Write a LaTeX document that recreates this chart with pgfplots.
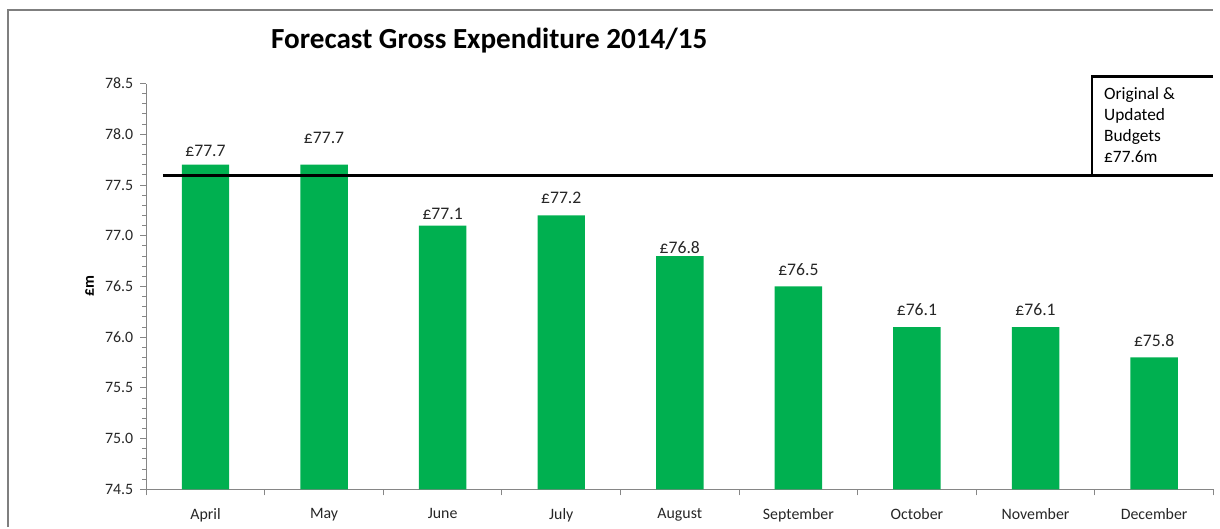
\documentclass[border=0pt]{standalone}
\usepackage{fontspec}
\setmainfont{Carlito}
\usepackage{pgfplots}
\pgfplotsset{compat=1.18}
\definecolor{barGreen}{HTML}{00B050}
\definecolor{axisGray}{HTML}{868686}
\definecolor{frameGray}{HTML}{7F7F7F}
\definecolor{labelGray}{HTML}{262626}

\begin{document}
\begin{tikzpicture}
% page frame: 1px = 0.5bp, axis origin at pixel (147,492)
\path (-73.5bp,-19bp) rectangle (536.5bp,246bp);
\draw[frameGray, line width=0.8bp] (-69.5bp,-19bp) -- (-69.5bp,241bp) -- (536.5bp,241bp);
\begin{axis}[
  at={(0,0)}, anchor=south west,
  scale only axis, width=536.5bp, height=204bp,
  xmin=-0.5, xmax=8.5, ymin=74.5, ymax=78.5,
  axis lines=left, axis line style={axisGray, line width=0.6bp, -},
  tick style={axisGray, line width=0.5bp},
  tick align=outside,
  major tick length=3bp, minor tick length=2bp,
  xtick={-0.5,0.5,...,8.5}, xticklabels={},
  extra x ticks={0,1,2,3,4,5,6,7,8},
  extra x tick labels={April,May,June,July,August,September,October,November,December},
  extra x tick style={major tick length=0pt, tick label style={yshift=-6bp}},
  ytick={74.5,75,...,78.5}, minor y tick num=4,
  yticklabel style={/pgf/number format/fixed, /pgf/number format/precision=1,
    /pgf/number format/fixed zerofill},
  /pgf/number format/assume math mode=true,
  tick label style={font=\fontsize{8}{9.6}\selectfont, text=labelGray},
  ylabel={£m},
  ylabel style={at={(axis description cs:0,0.5)}, anchor=center, yshift=28.5bp,
    font=\fontsize{8}{9.6}\selectfont\bfseries},
  title={Forecast Gross Expenditure 2014/15},
  title style={at={(axis description cs:0,1)}, anchor=base, xshift=172.5bp, yshift=11.5bp,
    font=\fontsize{14.7}{16}\selectfont\bfseries},
]
% dy = hand-placed label offset (bp)
\addplot[ybar, bar width=0.4, fill=barGreen, draw=none,
  visualization depends on={\thisrow{dy} \as \dy},
  nodes near coords={£\pgfmathprintnumber[fixed,precision=1,fixed zerofill]{\pgfplotspointmeta}},
  every node near coord/.append style={font=\fontsize{8.9}{10}\selectfont, text=labelGray,
    yshift=\dy bp}]
  table {
x y dy
0 77.7 0.5
1 77.7 7
2 77.1 -0.5
3 77.2 2.5
4 76.8 -2.5
5 76.5 2
6 76.1 2
7 76.1 2
8 75.8 2
};
\addplot[sharp plot, black, line width=1.6bp] coordinates {(-0.36,77.59) (8.5,77.59)};
\coordinate (boxTL) at (axis cs:7.475,78.57);
\coordinate (boxBL) at (axis cs:7.475,77.59);
\end{axis}
\draw[black, line width=1.1bp] (boxBL) -- (boxTL) -- (536.5bp,0|-boxTL);
\node[anchor=north west, align=left, inner sep=0pt, font=\fontsize{8.75}{10.6}\selectfont]
  at ([xshift=6bp,yshift=-5.5bp]boxTL) {Original \&\\Updated\\Budgets\\£77.6m};
\end{tikzpicture}
\end{document}
